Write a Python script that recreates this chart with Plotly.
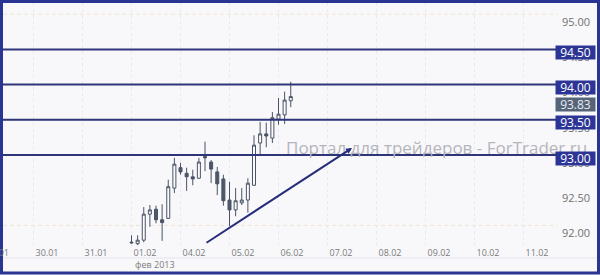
import plotly.graph_objects as go

# ---- data ----
bar_index = list(range(27))  # consecutive H3 bars starting 01.02 00:00
opens  = [91.75, 91.74, 91.79, 92.16, 92.23, 92.08, 92.10, 92.53, 92.82, 92.74, 92.69, 92.67, 92.98, 92.90,
          92.76, 92.66, 92.36, 92.22, 92.32, 92.36, 92.57, 93.17, 93.30, 93.24, 93.51, 93.57, 93.77]
highs  = [91.86, 91.86, 92.26, 92.29, 92.28, 92.30, 92.65, 92.96, 92.89, 92.82, 92.79, 92.96, 93.19, 92.93,
          92.83, 92.72, 92.62, 92.53, 92.53, 92.67, 93.28, 93.47, 93.46, 93.61, 93.81, 93.90, 94.04]
lows   = [91.74, 91.72, 91.76, 91.98, 92.03, 91.78, 92.09, 92.46, 92.72, 92.49, 92.57, 92.66, 92.77, 92.60,
          92.43, 92.28, 91.99, 92.13, 92.29, 92.18, 92.56, 93.00, 93.11, 93.17, 93.43, 93.44, 93.68]
closes = [91.76, 91.79, 92.16, 92.22, 92.08, 92.04, 92.55, 92.87, 92.76, 92.69, 92.66, 92.90, 92.96, 92.80,
          92.59, 92.35, 92.22, 92.35, 92.36, 92.60, 93.14, 93.30, 93.27, 93.53, 93.58, 93.78, 93.83]

day_labels = ["29.01", "30.01", "31.01", "01.02", "04.02", "05.02", "06.02", "07.02", "08.02", "09.02", "10.02", "11.02"]
day_start = [-24, -16, -8, 0, 8, 16, 24, 32, 40, 48, 56, 64]   # bar index where each day begins (8 H3 bars/day)
month_label = "фев 2013"

price_ticks = [92.0, 92.5, 93.0, 93.5, 94.0, 94.5, 95.0]
grid_levels = [92.0, 93.0, 94.0, 95.0]
level_lines = [94.5, 94.0, 93.5, 93.0]
last_price = 93.83

trend_idx = [12.0, 36.0]
trend_price = [91.74, 93.10]

watermark = "Портал для трейдеров - ForTrader.ru"

# ---- figure ----
NAVY = "#2e3578"
BOX = "#2c3596"
W, H = 600, 275
ML, MR, MT, MB = 3, 43, 3, 29
PW, PH = W - ML - MR, H - MT - MB


def px_x(px):
    return (px - ML) / PW


def px_y(py):
    return (H - MB - py) / PH


fig = go.Figure()
fig.add_trace(go.Candlestick(
    x=bar_index, open=opens, high=highs, low=lows, close=closes,
    increasing=dict(line=dict(color="#4a5366", width=1), fillcolor="#fbfbfd"),
    decreasing=dict(line=dict(color="#4a5366", width=1), fillcolor="#4e586c"),
    whiskerwidth=0, showlegend=False, hoverinfo="skip",
))

shapes = []
for g in grid_levels:
    shapes.append(dict(type="line", xref="paper", yref="y", x0=0, x1=1, y0=g, y1=g,
                       line=dict(color="#efe2d6", width=1, dash="4px,3px"), layer="below"))
for lv in level_lines:
    shapes.append(dict(type="line", xref="paper", yref="y", x0=0, x1=1, y0=lv, y1=lv,
                       line=dict(color=NAVY, width=2)))
# bottom separator and outer frame
shapes.append(dict(type="line", xref="paper", yref="paper", x0=px_x(3), x1=px_x(597), y0=px_y(258), y1=px_y(258),
                   line=dict(color="#e4e4ee", width=1)))
shapes.append(dict(type="rect", xref="paper", yref="paper", x0=px_x(1.5), x1=px_x(598.5),
                   y0=px_y(273), y1=px_y(1.5), line=dict(color="#2a3593", width=3)))
fig.update_layout(shapes=shapes)

ann = []
ann.append(dict(text=watermark, xref="paper", yref="paper", x=px_x(284), y=px_y(147), xanchor="left", yanchor="middle",
                showarrow=False, font=dict(family="Open Sans", size=17, color="#b5b5bd")))
# trend line with arrow
ann.append(dict(x=trend_idx[1], y=trend_price[1], ax=trend_idx[0], ay=trend_price[0], xref="x", yref="y",
                axref="x", ayref="y", showarrow=True, arrowhead=2, arrowsize=0.6, arrowwidth=2,
                arrowcolor="#262d7a", text=""))
for lv in level_lines:
    ann.append(dict(text=f"{lv:.2f}", xref="paper", yref="y", x=px_x(555), y=lv, xanchor="left", yanchor="middle",
                    yshift=-3, showarrow=False, bgcolor=BOX, width=38, height=12, borderpad=0.5,
                    font=dict(family="Open Sans", size=12, color="white")))
ann.append(dict(text=f"{last_price:.2f}", xref="paper", yref="y", x=px_x(555), y=last_price, xanchor="left",
                yanchor="middle", yshift=-8, showarrow=False, bgcolor="#566479", width=38, height=12, borderpad=0.5,
                font=dict(family="Open Sans", size=12, color="#e8ecf2")))
# partially visible first day label and month label
ann.append(dict(text=day_labels[0], xref="paper", yref="paper", x=px_x(11), y=px_y(252), xanchor="right",
                yanchor="middle", showarrow=False, font=dict(family="Open Sans", size=9, color="#7a7a7a")))
ann.append(dict(text=month_label, xref="x", yref="paper", x=day_start[3], y=px_y(264), xanchor="left",
                yanchor="middle", xshift=1, showarrow=False, font=dict(family="Open Sans", size=9, color="#7a7a7a")))
fig.update_layout(annotations=ann)

x0 = (ML - 131.5) / 6.125
x1 = (W - MR - 131.5) / 6.125
y_top = 93 + (155 - MT) / 70.4
y_bot = 93 - (H - MB - 155) / 70.4

fig.update_layout(
    width=W, height=H, margin=dict(l=ML, r=MR, t=MT, b=MB),
    paper_bgcolor="#f8f8fa", plot_bgcolor="#f8f8fa",
    font=dict(family="Open Sans", color="#777777"),
    xaxis=dict(range=[x0, x1], rangeslider=dict(visible=False), tickmode="array",
               tickvals=day_start[1:], ticktext=day_labels[1:], showgrid=True,
               gridcolor="#e8e8f0", griddash="dot", gridwidth=1, zeroline=False, showline=False,
               ticks="", ticklabelposition="outside right", ticklabelshift=2,
               tickfont=dict(family="Open Sans", size=9, color="#7a7a7a")),
    yaxis=dict(range=[y_bot, y_top], side="right", tickmode="array", tickvals=price_ticks,
               ticktext=[f"{v:.2f}" for v in price_ticks], showgrid=False, zeroline=False,
               ticks="", ticklabelstandoff=4, ticklabelshift=8,
               tickfont=dict(family="Open Sans", size=11, color="#707070")),
)

fig.write_html("out.html")
